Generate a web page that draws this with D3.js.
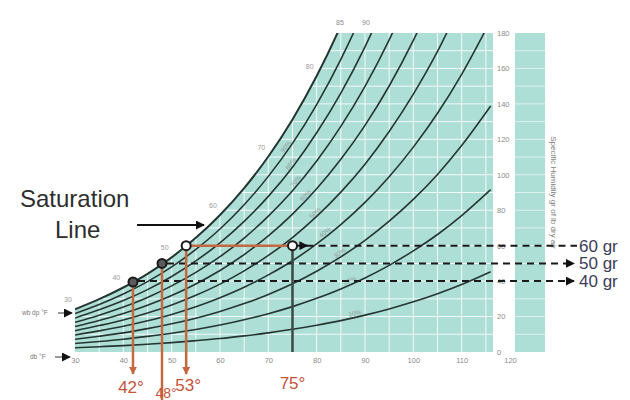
<!DOCTYPE html>
<html>
<head>
<meta charset="utf-8">
<script src="https://cdn.jsdelivr.net/npm/d3@7"></script>
<style>
  html, body { margin: 0; padding: 0; background: #fff; }
  svg { display: block; font-family: "Liberation Sans", Arial, sans-serif; }
</style>
</head>
<body>
<svg id="chart" width="630" height="400"></svg>
<script>
// ---------------- data ----------------
const temps = [30,35,40,45,50,55,60,65,70,75,80,85,90,95,100,105,110,116]; // dry bulb °F
const rhLevels = [100,90,80,70,60,50,40,30,20,10];                          // % relative humidity
// grains of moisture per lb dry air along each RH curve, at the temps above
const rh100 = [24.1,29.8,36.4,44.1,53.4,64.4,77.3,92.5,110.3,131.2,155.7,184.2,217.4];
const rh90  = [21.7,26.8,32.7,39.7,48.0,57.9,69.4,83.1,99.1,117.7,139.6,165.1,194.7,229.1];
const rh80  = [19.2,23.8,29.0,35.2,42.6,51.4,61.6,73.7,87.8,104.3,123.7,146.1,172.2,202.5];
const rh70  = [16.8,20.8,25.4,30.8,37.3,44.9,53.8,64.3,76.7,91.0,107.8,127.3,149.9,176.1,206.4];
const rh60  = [14.4,17.8,21.7,26.4,31.9,38.4,46.0,55.0,65.5,77.8,92.1,108.7,127.9,150.1,175.8,205.2];
const rh50  = [12.0,14.9,18.1,22.0,26.5,32.0,38.3,45.8,54.5,64.6,76.5,90.2,106.0,124.4,145.5,169.6,197.7];
const rh40  = [9.6,11.9,14.5,17.6,21.2,25.5,30.6,36.5,43.5,51.5,61.0,71.9,84.4,98.9,115.6,134.7,156.7,187.1];
const rh30  = [7.2,8.9,10.8,13.2,15.9,19.1,22.9,27.3,32.5,38.5,45.6,53.7,63.0,73.8,86.1,100.2,116.5,138.8];
const rh20  = [4.8,5.9,7.2,8.8,10.6,12.7,15.2,18.2,21.6,25.6,30.3,35.6,41.8,48.9,57.1,66.3,77.0,91.6];
const rh10  = [2.4,3.0,3.6,4.4,5.3,6.4,7.6,9.1,10.8,12.8,15.1,17.7,20.8,24.3,28.3,32.9,38.1,45.3];

const xTicks = [30,40,50,60,70,80,90,100,110,120];
const yTicks = [0,20,40,60,80,100,120,140,160,180];
const satLabelTemps = [30,40,50,60,70,80];
const topLabels = ["85","90"];
const rhLabelTemps = [null,74,75,76,78,80,82,85,87,88];

// worked example
const markerTemps  = [42,48,53,75];
const markerGrains = [39.5,50,60,60];
const markerLabels = ["42°","48°","53°","75°"];
const grainLevels  = [60,50,40];
const grainLabels  = ["60 gr","50 gr","40 gr"];

// ---------------- layout ----------------
const svg = d3.select("#chart");
const x = d3.scaleLinear().domain([30,120]).range([75,510]);
const y = d3.scaleLinear().domain([0,180]).range([352,33]);
const plotL = 75, plotR = 493, plotT = y(180), plotB = y(0);
const teal = "#aedfd6";
const lineCol = "#243631";
const orange = "#c4683f";

const defs = svg.append("defs");
defs.append("clipPath").attr("id","plot").append("rect")
  .attr("x",plotL).attr("y",plotT).attr("width",plotR-plotL).attr("height",plotB-plotT);
function arrow(id, color, size) {
  defs.append("marker").attr("id",id).attr("viewBox","0 0 10 10")
    .attr("refX",9).attr("refY",5).attr("markerWidth",size).attr("markerHeight",size)
    .attr("orient","auto").attr("markerUnits","userSpaceOnUse")
    .append("path").attr("d","M0,0L10,5L0,10Z").attr("fill",color);
}
arrow("arrBlack","#111",9);
arrow("arrOrange",orange,8);

const curves = [rh100,rh90,rh80,rh70,rh60,rh50,rh40,rh30,rh20,rh10].map((vals,i) => ({
  rh: rhLevels[i],
  pts: vals.map((w,j) => ({t: temps[j], w}))
}));
const sat = curves[0].pts;

const plot = svg.append("g").attr("clip-path","url(#plot)");
// teal background
plot.append("rect").attr("x",plotL).attr("y",plotT).attr("width",plotR-plotL).attr("height",plotB-plotT)
  .attr("fill",teal);
// grid
const g = plot.append("g").attr("stroke","#fff").attr("stroke-width",1).attr("opacity",0.85);
g.selectAll("line.v").data(d3.range(35,120,5)).join("line")
  .attr("x1",d=>x(d)).attr("x2",d=>x(d)).attr("y1",plotT).attr("y2",plotB);
g.selectAll("line.h").data(d3.range(10,180,10)).join("line")
  .attr("x1",plotL).attr("x2",plotR).attr("y1",d=>y(d)).attr("y2",d=>y(d));
// white region above saturation
plot.append("path").datum(sat)
  .attr("d", d3.area().x(d=>x(d.t)).y0(d=>y(d.w)).y1(0).curve(d3.curveMonotoneX))
  .attr("fill","#fff");

// RH curves
const line = d3.line().x(d=>x(d.t)).y(d=>y(d.w)).curve(d3.curveMonotoneX);
plot.selectAll("path.rh").data(curves).join("path")
  .attr("d",d=>line(d.pts)).attr("fill","none").attr("stroke",lineCol)
  .attr("stroke-width",d=>d.rh===100?2:1.6);

// faint RH labels along curves
curves.forEach((c,i) => {
  const t = rhLabelTemps[i];
  if (t == null) return;
  const j = temps.findIndex(v => v > t) - 1;
  const a = c.pts[j], b = c.pts[j+1];
  const f = (t - a.t)/(b.t - a.t);
  const w = a.w + f*(b.w - a.w);
  const ang = Math.atan2(y(b.w)-y(a.w), x(b.t)-x(a.t))*180/Math.PI;
  plot.append("text").attr("transform",`translate(${x(t)},${y(w)-2}) rotate(${ang})`)
    .attr("font-size",6.5).attr("fill","#8a9a96").attr("text-anchor","middle")
    .text(c.rh + "%");
});

// saturation temperature labels
svg.selectAll("text.sat").data(satLabelTemps).join("text")
  .attr("x",d=>x(d)-7).attr("y",d=>y(sat.find(p=>p.t===d).w)-7)
  .attr("font-size",7).attr("fill","#9a9a9a").attr("text-anchor","middle").text(d=>d);
svg.selectAll("text.top").data(topLabels).join("text")
  .attr("x",(d,i)=>340+i*26).attr("y",25)
  .attr("font-size",7).attr("fill","#8a8a8a").attr("text-anchor","middle").text(d=>d);

// right strip
svg.append("rect").attr("x",515).attr("y",plotT).attr("width",30).attr("height",plotB-plotT).attr("fill",teal);
svg.append("g").attr("stroke","#fff").attr("opacity",0.6)
  .selectAll("line").data(d3.range(10,180,10)).join("line")
  .attr("x1",515).attr("x2",545).attr("y1",d=>y(d)).attr("y2",d=>y(d));
svg.append("text").attr("transform",`translate(551,${(plotT+plotB)/2}) rotate(90)`)
  .attr("text-anchor","middle").attr("font-size",8).attr("fill","#7a7a7a")
  .text("Specific Humidity gr of lb dry air");

// axes
const ya = svg.append("g").attr("transform",`translate(${plotR+2},0)`)
  .call(d3.axisRight(y).tickValues(yTicks).tickSize(0).tickPadding(2));
ya.select(".domain").remove();
ya.selectAll("text").attr("font-size",7.5).attr("fill","#8a8a8a");
const xa = svg.append("g").attr("transform",`translate(0,${plotB+4})`)
  .call(d3.axisBottom(x).tickValues(xTicks).tickSize(0).tickPadding(2));
xa.select(".domain").remove();
xa.selectAll("text").attr("font-size",7.5).attr("fill","#8a8a8a");

// left small labels
svg.append("text").attr("x",22).attr("y",315).attr("font-size",6.5).attr("fill","#777").text("wb dp °F");
svg.append("line").attr("x1",58).attr("x2",72).attr("y1",313).attr("y2",313)
  .attr("stroke","#333").attr("stroke-width",1).attr("marker-end","url(#arrBlack)");
svg.append("text").attr("x",30).attr("y",359).attr("font-size",6.5).attr("fill","#777").text("db °F");
svg.append("line").attr("x1",55).attr("x2",70).attr("y1",357).attr("y2",357)
  .attr("stroke","#333").attr("stroke-width",1).attr("marker-end","url(#arrBlack)");

// dashed grain lines
const startX = [x(75)+14, x(48)+5, x(42)+5];
svg.selectAll("line.dash").data(grainLevels).join("line")
  .attr("x1",(d,i)=>startX[i]).attr("x2",(d,i)=>i===0?577:574)
  .attr("y1",d=>y(d)).attr("y2",d=>y(d))
  .attr("stroke","#1a1a1a").attr("stroke-width",2).attr("stroke-dasharray","7,5")
  .attr("marker-end",(d,i)=>i===0?null:"url(#arrBlack)");
svg.append("line").attr("x1",x(75)+4).attr("x2",x(75)+15).attr("y1",y(60)).attr("y2",y(60))
  .attr("stroke","#1a1a1a").attr("stroke-width",2).attr("marker-end","url(#arrBlack)");
svg.selectAll("text.gr").data(grainLevels).join("text")
  .attr("x",579).attr("y",d=>y(d)+6).attr("font-size",17).attr("fill","#3c3c5a")
  .text((d,i)=>grainLabels[i]);

// example lines
svg.append("line").attr("x1",x(53)).attr("x2",x(75)).attr("y1",y(60)).attr("y2",y(60))
  .attr("stroke",orange).attr("stroke-width",2.5);
svg.append("line").attr("x1",x(75)).attr("x2",x(75)).attr("y1",y(60)).attr("y2",plotB)
  .attr("stroke","#3a4a46").attr("stroke-width",2.5);
const dropEnd = [374, 400, 374];
[0,1,2].forEach(i => {
  svg.append("line").attr("x1",x(markerTemps[i])).attr("x2",x(markerTemps[i]))
    .attr("y1",y(markerGrains[i])).attr("y2",dropEnd[i])
    .attr("stroke",orange).attr("stroke-width",2.5)
    .attr("marker-end",i===1?null:"url(#arrOrange)");
});
svg.selectAll("circle.m").data(markerTemps).join("circle")
  .attr("cx",d=>x(d)).attr("cy",(d,i)=>y(markerGrains[i])).attr("r",4.5)
  .attr("fill",(d,i)=>i<2?"#5a5a5a":"#fff").attr("stroke","#1a1a1a").attr("stroke-width",2);
const labY = [393, 398, 391, 389];
const labDx = [-2, 4, 2, 0];
svg.selectAll("text.ml").data(markerTemps).join("text")
  .attr("x",(d,i)=>x(d)+labDx[i]).attr("y",(d,i)=>labY[i])
  .attr("text-anchor","middle").attr("font-size",(d,i)=>i===1?14:17).attr("fill","#c4533a")
  .text((d,i)=>markerLabels[i]);

// Saturation line annotation
svg.append("text").attr("x",20).attr("y",207).attr("font-size",24).attr("fill","#2e2e2e").text("Saturation");
svg.append("text").attr("x",55).attr("y",238).attr("font-size",24).attr("fill","#2e2e2e").text("Line");
svg.append("line").attr("x1",137).attr("x2",204).attr("y1",225).attr("y2",225)
  .attr("stroke","#111").attr("stroke-width",2).attr("marker-end","url(#arrBlack)");
</script>
</body>
</html>
